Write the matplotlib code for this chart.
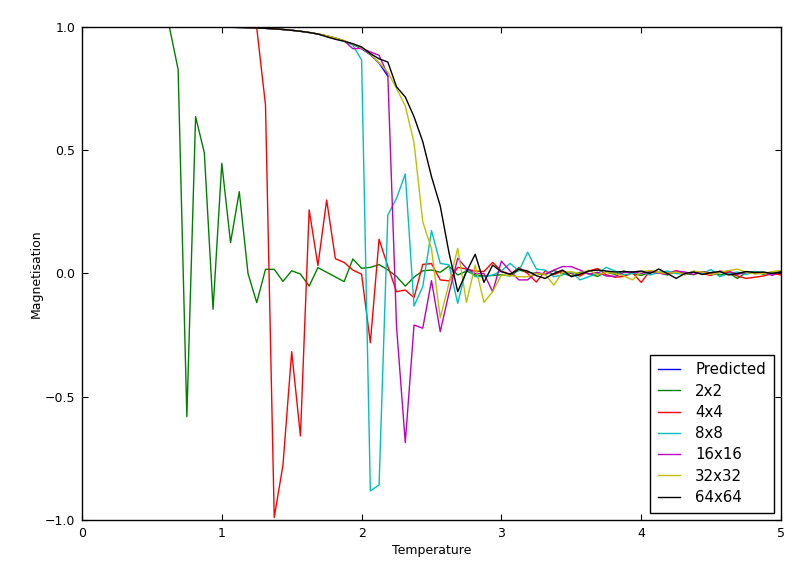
import numpy as np
import matplotlib
matplotlib.use("Agg")
import matplotlib.pyplot as plt

# Temperature grid (step 0.0625 from 0.0625 to 5.0)
temps = np.arange(1, 81) * 0.0625

labels = ["Predicted", "2x2", "4x4", "8x8", "16x16", "32x32", "64x64"]
colors = ["#0000ff", "#008000", "#ff0000", "#00bfbf", "#bf00bf", "#bfbf00", "#000000"]

predicted = [
    1.0, 1.0, 1.0, 1.0, 1.0, 1.0, 1.0, 1.0, 1.0, 1.0,
    1.0, 1.0, 1.0, 0.9998, 0.9996, 0.9993, 0.9988, 0.9982, 0.9972, 0.9960,
    0.9944, 0.9924, 0.9898, 0.9865, 0.9825, 0.9775, 0.9714, 0.9640, 0.9549, 0.9436,
    0.9294, 0.9113, 0.8874, 0.8537, 0.8001]

m2 = [
    1.0, 1.0, 1.0, 1.0, 1.0, 1.0, 1.0, 1.0, 1.0, 1.0,
    0.828, -0.581, 0.636, 0.490, -0.145, 0.447, 0.125, 0.332, 0.000, -0.118,
    0.017, 0.017, -0.032, 0.011, -0.002, -0.051, 0.024, 0.005, -0.014, -0.033,
    0.059, 0.021, 0.025, 0.036, 0.015, -0.012, -0.051, -0.015, 0.011, 0.014,
    0.005, 0.030, -0.006, 0.010, -0.006, -0.010, -0.008, -0.005, -0.010, 0.014,
    0.005, 0.000, -0.005, 0.012, 0.000, -0.010, 0.005, 0.000, -0.012, 0.006,
    -0.004, 0.010, 0.000, -0.008, 0.005, 0.003, -0.006, 0.008, 0.000, -0.005,
    0.007, 0.002, -0.006, 0.003, -0.020, 0.004, 0.008, -0.003, 0.006, 0.004]

m4 = [
    1.0, 1.0, 1.0, 1.0, 1.0, 1.0, 1.0, 1.0, 1.0, 1.0,
    1.0, 1.0, 1.0, 1.0, 1.0, 1.0, 0.9995, 0.999, 0.998, 0.996,
    0.684, -0.990, -0.777, -0.317, -0.659, 0.258, 0.032, 0.298, 0.060, 0.045,
    0.014, -0.003, -0.281, 0.139, 0.030, -0.074, -0.067, -0.098, 0.037, 0.040,
    -0.026, -0.030, 0.025, 0.018, 0.010, 0.008, 0.045, 0.010, -0.004, 0.024,
    0.000, -0.035, 0.010, -0.005, 0.010, 0.000, -0.010, 0.010, 0.020, -0.005,
    -0.015, -0.012, 0.003, -0.036, 0.010, 0.005, 0.000, 0.012, -0.005, 0.008,
    0.000, -0.008, 0.010, 0.004, -0.010, -0.020, -0.015, -0.010, 0.000, -0.006]

m8 = [
    1.0, 1.0, 1.0, 1.0, 1.0, 1.0, 1.0, 1.0, 1.0, 1.0,
    1.0, 1.0, 1.0, 0.9998, 0.9996, 0.9993, 0.9988, 0.9981, 0.9973, 0.9958,
    0.9946, 0.9922, 0.9899, 0.9862, 0.9828, 0.9771, 0.9716, 0.9635, 0.9552, 0.9430,
    0.926, 0.866, -0.882, -0.858, 0.237, 0.305, 0.404, -0.132, -0.053, 0.174,
    0.041, 0.035, -0.121, 0.021, -0.013, -0.013, -0.006, 0.010, 0.041, 0.010,
    0.086, 0.018, 0.014, -0.013, -0.006, 0.007, -0.026, -0.013, 0.000, 0.025,
    0.010, -0.005, 0.000, 0.008, -0.006, 0.004, 0.010, 0.000, -0.004, 0.006,
    0.000, 0.016, -0.013, 0.000, 0.006, -0.004, 0.008, 0.004, -0.002, 0.010]

m16 = [
    1.0, 1.0, 1.0, 1.0, 1.0, 1.0, 1.0, 1.0, 1.0, 1.0,
    1.0, 1.0, 1.0, 0.9998, 0.9996, 0.9993, 0.9987, 0.9982, 0.9971, 0.9961,
    0.9943, 0.9925, 0.9897, 0.9866, 0.9822, 0.9776, 0.9711, 0.9642, 0.9545, 0.9440,
    0.912, 0.913, 0.899, 0.885, 0.805, -0.216, -0.686, -0.209, -0.222, -0.029,
    -0.236, -0.080, 0.062, 0.021, 0.000, 0.000, -0.074, 0.050, 0.010, -0.026,
    -0.026, 0.005, -0.003, 0.014, 0.028, 0.028, 0.014, -0.003, 0.005, -0.010,
    -0.012, 0.004, 0.006, 0.000, 0.008, 0.002, -0.004, 0.010, 0.006, -0.004,
    0.008, 0.000, 0.004, 0.010, -0.004, 0.006, 0.000, 0.004, -0.008, 0.008]

m32 = [
    1.0, 1.0, 1.0, 1.0, 1.0, 1.0, 1.0, 1.0, 1.0, 1.0,
    1.0, 1.0, 1.0, 0.9998, 0.9996, 0.9993, 0.9988, 0.9982, 0.9972, 0.9960,
    0.9945, 0.9925, 0.9899, 0.9866, 0.9827, 0.9778, 0.9718, 0.9645, 0.9556, 0.9445,
    0.930, 0.915, 0.889, 0.855, 0.817, 0.750, 0.680, 0.530, 0.210, 0.100,
    -0.180, -0.040, 0.102, -0.117, 0.034, -0.117, -0.074, -0.006, -0.009, -0.013,
    -0.013, 0.000, -0.003, -0.047, 0.005, 0.007, 0.000, 0.014, -0.006, 0.005,
    0.000, -0.010, -0.026, 0.008, 0.012, 0.004, 0.000, 0.006, -0.004, 0.010,
    0.006, -0.004, 0.004, 0.012, 0.018, 0.006, -0.002, 0.000, 0.008, 0.012]

m64 = [
    1.0, 1.0, 1.0, 1.0, 1.0, 1.0, 1.0, 1.0, 1.0, 1.0,
    1.0, 1.0, 1.0, 0.9998, 0.9996, 0.9993, 0.9988, 0.9982, 0.9972, 0.9960,
    0.9944, 0.9924, 0.9898, 0.9866, 0.9826, 0.9777, 0.9716, 0.9600, 0.9500, 0.9420,
    0.932, 0.919, 0.892, 0.871, 0.858, 0.757, 0.716, 0.636, 0.535, 0.393,
    0.274, 0.085, -0.074, 0.007, 0.078, -0.036, 0.034, 0.007, -0.003, 0.018,
    0.010, -0.009, -0.020, 0.000, 0.014, -0.013, -0.003, 0.010, 0.014, 0.010,
    0.006, 0.008, 0.006, 0.010, 0.000, 0.018, 0.000, -0.020, 0.000, 0.006,
    -0.004, 0.004, 0.008, -0.006, 0.000, 0.008, 0.004, 0.006, 0.000, 0.006]

series = [predicted, m2, m4, m8, m16, m32, m64]

plt.rcParams["font.family"] = ["DejaVu Sans"]
fig = plt.figure(figsize=(8, 5.62), dpi=100)
ax = fig.add_axes([0.1025, 0.0747, 0.87375, 0.8773])

for vals, lab, col in zip(series, labels, colors):
    ax.plot(temps[:len(vals)], vals, color=col, lw=1.0, label=lab)

ax.set_xlim(0, 5)
ax.set_ylim(-1, 1)
ax.set_xticks([0, 1, 2, 3, 4, 5])
ax.set_yticks([-1.0, -0.5, 0.0, 0.5, 1.0])
ax.set_yticklabels(["\u22121.0", "\u22120.5", "0.0", "0.5", "1.0"])
ax.tick_params(direction="in", top=True, right=True, length=4, width=0.8,
               labelsize=9, pad=5)
for s in ax.spines.values():
    s.set_linewidth(1.0)
    s.set_color("black")
ax.set_xlabel("Temperature", fontsize=9, labelpad=3)
ax.set_ylabel("Magnetisation", fontsize=9, labelpad=1)

leg = ax.legend(loc="lower right", fontsize=10.8, fancybox=False, framealpha=1,
                edgecolor="black", handlelength=1.5, handletextpad=1.0,
                labelspacing=0.42, borderpad=0.5, borderaxespad=0.5)
leg.get_frame().set_linewidth(1.0)

fig.savefig("out.png", dpi=100)
